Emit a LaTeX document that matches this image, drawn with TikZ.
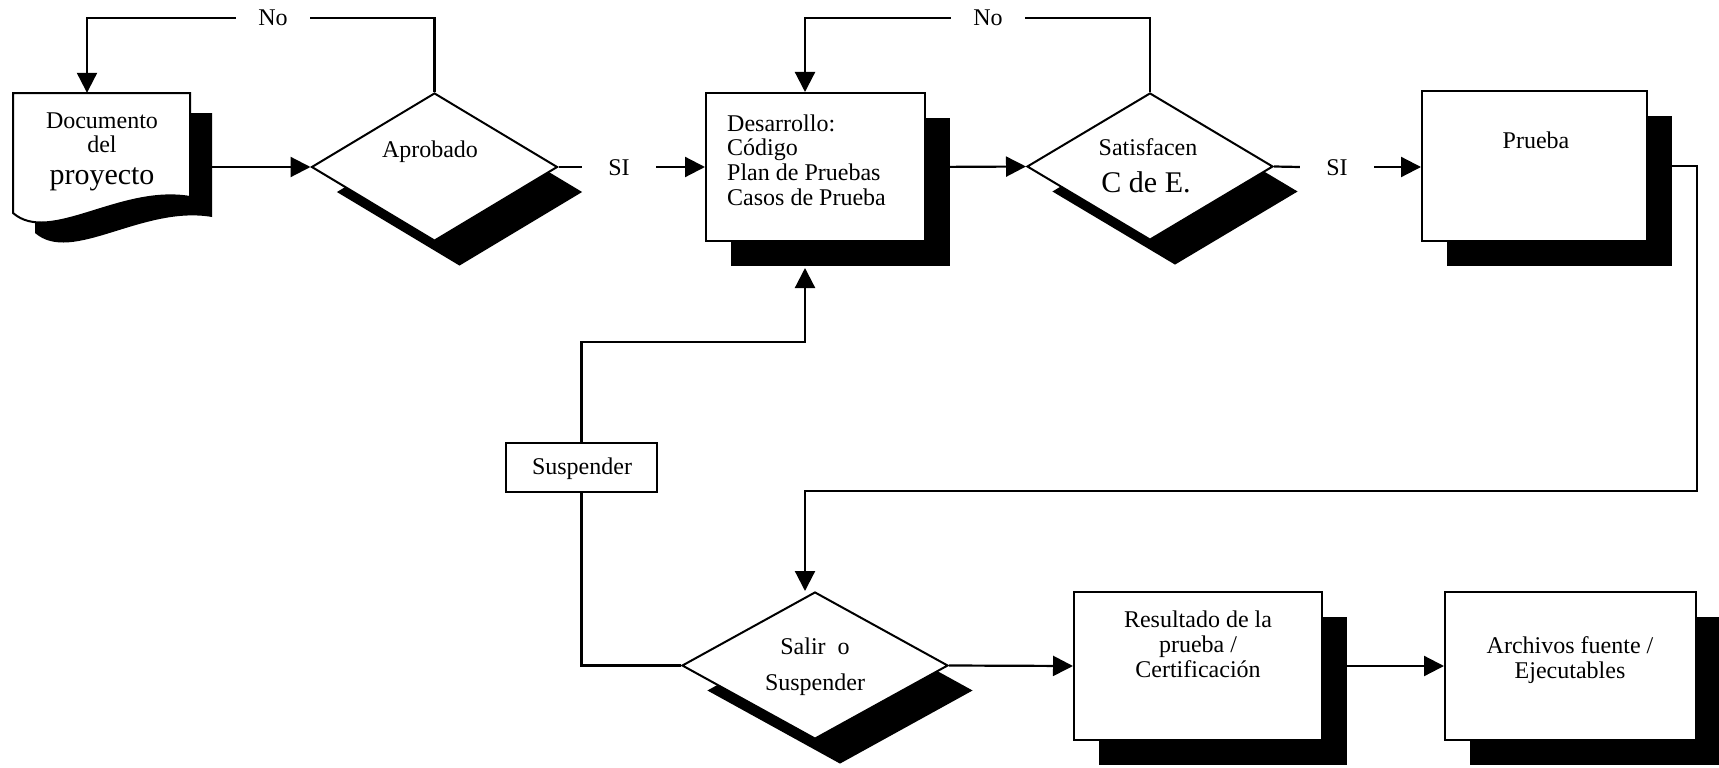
\documentclass[tikz,border=0pt]{standalone}
\usepackage{fontspec}
\setmainfont{Liberation Serif}
\usetikzlibrary{arrows.meta,shapes.geometric,shadows,calc}
\begin{document}
\begin{tikzpicture}[x=1pt,y=-1pt,
  every node/.style={font=\fontsize{24}{26}\selectfont},
  shd/.style={drop shadow={shadow xshift=25pt,shadow yshift=-25pt,opacity=1,fill=black}},
  boxr/.style={rectangle,draw,fill=white,line width=2pt,inner sep=0pt,shd},
  dia/.style={diamond,draw,fill=white,line width=2pt,inner sep=0pt,shd},
  conn/.style={line width=2.2pt},
  arr/.style={conn,-{Triangle[length=20pt,width=20pt]}},
  lbl/.style={inner sep=0pt,minimum width=74pt,text height=16pt,text depth=0pt},
  txt/.style={inner sep=0pt,anchor=base},
  txtl/.style={inner sep=0pt,anchor=base west},
  big/.style={font=\fontsize{30}{32}\selectfont}]
\useasboundingbox (0,0) rectangle (1719,768);

% document shape
\fill[black,shift={(22,20)}] (13,93) -- (190,93) -- (190,197) .. controls (120,185) and (50,245) .. (13,213) -- cycle;
\draw[line width=2pt,fill=white] (13,93) -- (190,93) -- (190,197) .. controls (120,185) and (50,245) .. (13,213) -- cycle;
\node[minimum width=177pt,minimum height=120pt,inner sep=0pt] (doc) at (101.5,153) {};

% shapes
\node[dia,minimum width=246pt,minimum height=148pt] (apr) at (434.5,167) {};
\node[boxr,minimum width=219pt,minimum height=148pt] (des) at (815.5,167) {};
\node[dia,minimum width=246pt,minimum height=147pt] (sat) at (1150,166.5) {};
\node[boxr,minimum width=225pt,minimum height=150pt] (pru) at (1534.5,166) {};
\node[rectangle,draw,fill=white,line width=2pt,minimum width=151pt,minimum height=49pt,inner sep=0pt] (sus) at (581.5,467.5) {};
\node[dia,minimum width=266pt,minimum height=147pt] (sal) at (815,665.5) {};
\node[boxr,minimum width=248pt,minimum height=148pt] (res) at (1198,666) {};
\node[boxr,minimum width=251pt,minimum height=148pt] (arc) at (1570.5,666) {};

% texts
\node[txt] at (102,128) {Documento};
\node[txt] at (102,152) {del};
\node[txt,big] at (102,184) {proyecto};
\node[txt] at (430,157) {Aprobado};
\node[txtl] at (727,131) {Desarrollo:};
\node[txtl] at (727,155) {Código};
\node[txtl] at (727,180) {Plan de Pruebas};
\node[txtl] at (727,205) {Casos de Prueba};
\node[txt] at (1148,155) {Satisfacen};
\node[txt,big] at (1146,192) {C de E.};
\node[txt] at (1536,148) {Prueba};
\node[txt] at (582,474) {Suspender};
\node[txt] at (815,654) {Salir~ o};
\node[txt] at (815,690) {Suspender};
\node[txt] at (1198,627) {Resultado de la};
\node[txt] at (1198,652) {prueba /};
\node[txt] at (1198,677) {Certificación};
\node[txt] at (1570,653) {Archivos fuente /};
\node[txt] at (1570,678) {Ejecutables};

% labels
\node[lbl] (no1) at (273,18) {No};
\node[lbl] (no2) at (988,18) {No};
\node[lbl] (si1) at (619,167) {SI};
\node[lbl] (si2) at (1337,167) {SI};

% connectors
\draw[arr] (doc.east |- apr.west) -- (apr.west);
\draw[conn] (apr.north) |- (no1.east);
\draw[arr] (no1.west) -| (doc.north -| 87,0);
\draw[conn] (apr.east) -- (si1.west);
\draw[arr] (si1.east) -- (si1.east -| des.west);
\draw[arr] (des.east) -- (sat.west);
\draw[conn] (sat.north) |- (no2.east);
\draw[arr] (no2.west) -| (des.north -| 805,0);
\draw[conn] (sat.east) -- (si2.west);
\draw[arr] (si2.east) -- (si2.east -| pru.west);
\coordinate (rt) at (1697,491);
\draw[arr] (pru.east) -| (rt) -| (sal.north -| 805,0);
\draw[conn] (sal.west) -| (sus.south);
\coordinate (up) at (805,342);
\draw[arr] (sus.north) |- (up) -- ($(des.south -| up)+(0,26)$);
\draw[arr] (sal.east) -- (res.west);
\draw[arr] (res.east) -- (arc.west);
\end{tikzpicture}
\end{document}
